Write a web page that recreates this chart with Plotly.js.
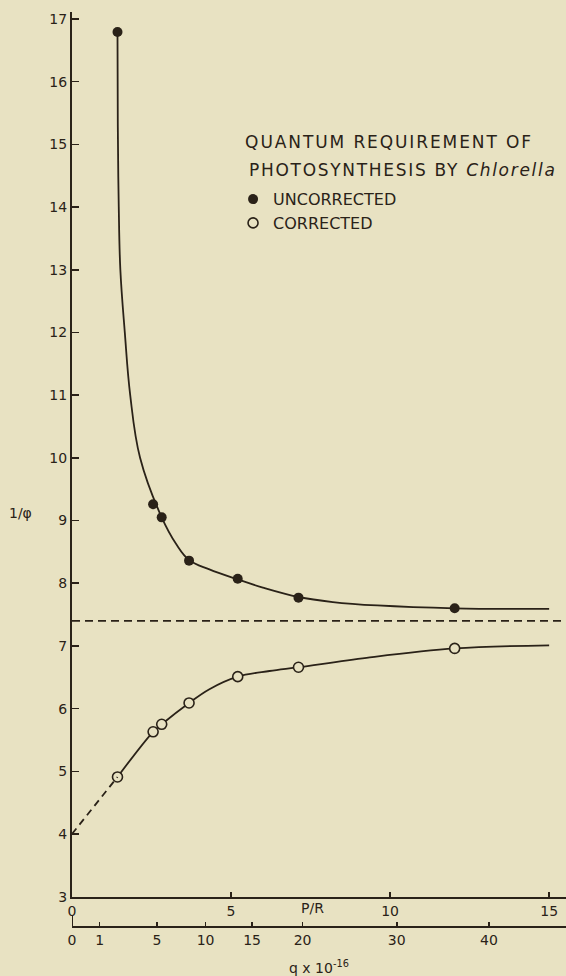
<!DOCTYPE html>
<html><head><meta charset="utf-8">
<script src="https://cdn.plot.ly/plotly-3.0.1.min.js"></script>
<style>html,body{margin:0;padding:0;background:#e8e2c2;}</style>
</head><body><div id="chart" style="width:566px;height:976px;"></div>
<script>
const prValues = [1.43, 2.55, 2.82, 3.68, 5.21, 7.12, 12.03];
const uncorrected = [16.79, 9.26, 9.05, 8.36, 8.07, 7.77, 7.60];
const corrected = [4.91, 5.63, 5.75, 6.09, 6.51, 6.66, 6.96];

// fitted curves
const uncorrCurveX = [1.43, 1.44, 1.47, 1.52, 1.66, 1.83, 2.14, 2.82, 3.28, 3.68, 4.32, 5.21, 6.0, 7.12, 8.2, 9.6, 12.03, 15.0];
const uncorrCurveY = [16.79, 15.3, 14.0, 13.0, 12.0, 11.0, 10.0, 9.05, 8.62, 8.37, 8.22, 8.06, 7.93, 7.78, 7.70, 7.645, 7.60, 7.59];
const corrCurveX = [1.43, 2.55, 2.82, 3.68, 4.32, 5.21, 6.21, 7.12, 9.26, 12.03, 15.0];
const corrCurveY = [4.91, 5.63, 5.75, 6.09, 6.31, 6.51, 6.60, 6.66, 6.81, 6.96, 7.01];
const extrapX = [0, 1.43];
const extrapY = [4.0, 4.91];
const asymptote = 7.4;

const yTicks = [3,4,5,6,7,8,9,10,11,12,13,14,15,16,17];
const prTicks = [0, 5, 10, 15];
const prTickLabels = ['0', '5', '10', '15'];
const qTickLabels = ['0', '1', '5', '10', '15', '20', '30', '40'];
const qTickPos = [0, 0.87, 2.67, 4.20, 5.66, 7.25, 10.21, 13.11];

const ink = '#2a2218';
const bg = '#e8e2c2';
const FONT = 'DejaVu Sans, sans-serif';

const traces = [
  {x: uncorrCurveX, y: uncorrCurveY, mode: 'lines', line: {color: ink, width: 1.8, shape: 'spline', smoothing: 1.1}, showlegend: false, hoverinfo: 'skip'},
  {x: corrCurveX, y: corrCurveY, mode: 'lines', line: {color: ink, width: 1.8, shape: 'spline', smoothing: 1.0}, showlegend: false, hoverinfo: 'skip'},
  {x: extrapX, y: extrapY, xaxis: 'x2', mode: 'lines', line: {color: ink, width: 1.8, dash: '7px,5px'}, showlegend: false, hoverinfo: 'skip'},
  {x: prValues, y: uncorrected, mode: 'markers', name: 'UNCORRECTED', marker: {symbol: 'circle', size: 10, color: ink, line: {color: ink, width: 0}}},
  {x: prValues, y: corrected, mode: 'markers', name: 'CORRECTED', marker: {symbol: 'circle', size: 10, color: bg, line: {color: ink, width: 1.6}}}
];

const axisCommon = {
  showgrid: false, zeroline: false, showline: true, linecolor: ink, linewidth: 2,
  ticks: 'inside', tickcolor: ink, tickwidth: 1.6,
  tickfont: {family: FONT, size: 14, color: ink}, tickmode: 'array', fixedrange: true
};

const layout = {
  width: 566, height: 976,
  margin: {l: 72, r: 0, t: 12, b: 49},
  paper_bgcolor: bg, plot_bgcolor: bg,
  font: {family: FONT, color: ink},
  xaxis: Object.assign({}, axisCommon, {range: [0, 15.53], anchor: 'y', tickvals: prTicks, ticktext: prTickLabels, ticklen: 5}),
  xaxis2: Object.assign({}, axisCommon, {range: [0, 15.53], overlaying: 'x', anchor: 'free', position: 0, side: 'bottom', tickvals: qTickPos, ticktext: qTickLabels, ticklen: 4}),
  yaxis: Object.assign({}, axisCommon, {range: [3, 17.11], domain: [0.0331, 1], tickvals: yTicks, ticktext: yTicks.map(String), ticklen: 7}),
  showlegend: true,
  legend: {x: 0.326, xanchor: 'left', y: 0.814, yanchor: 'top', bgcolor: 'rgba(0,0,0,0)', borderwidth: 0,
    font: {family: FONT, size: 16, color: ink}, tracegroupgap: 0},
  shapes: [
    {type: 'line', xref: 'paper', x0: 0, x1: 1, yref: 'y', y0: asymptote, y1: asymptote, line: {color: ink, width: 1.8, dash: '8px,5px'}},
    {type: 'line', xref: 'x', x0: 0, x1: 0, yref: 'paper', y0: 0, y1: 0.0123, line: {color: ink, width: 2}}
  ],
  annotations: [
    {text: 'QUANTUM REQUIREMENT OF', xref: 'paper', yref: 'paper', x: 0.642, y: 0.858, xanchor: 'center', yanchor: 'middle', showarrow: false, font: {family: FONT, size: 17, color: ink}},
    {text: 'PHOTOSYNTHESIS BY <i>Chlorella</i>', xref: 'paper', yref: 'paper', x: 0.670, y: 0.827, xanchor: 'center', yanchor: 'middle', showarrow: false, font: {family: FONT, size: 17, color: ink}},
    {text: 'P/R', xref: 'x', yref: 'paper', x: 7.57, y: 0.0211, xanchor: 'center', yanchor: 'middle', showarrow: false, font: {family: FONT, size: 14, color: ink}},
    {text: 'q x 10<sup>-16</sup>', xref: 'paper', yref: 'paper', x: 0.5, y: -0.0434, xanchor: 'center', yanchor: 'middle', showarrow: false, font: {family: FONT, size: 14, color: ink}},
    {text: '1/φ', xref: 'paper', yref: 'paper', x: -0.105, y: 0.4527, xanchor: 'center', yanchor: 'middle', showarrow: false, font: {family: FONT, size: 14, color: ink}}
  ]
};

Plotly.newPlot('chart', traces, layout, {staticPlot: true}).then(function () {
  document.querySelectorAll('.annotation-text').forEach(function (t) {
    const s = t.textContent;
    if (s.indexOf('QUANTUM') === 0) t.style.letterSpacing = '1.9px';
    if (s.indexOf('PHOTOSYNTHESIS') === 0) t.style.letterSpacing = '1.7px';
  });
});
</script>
</body></html>
